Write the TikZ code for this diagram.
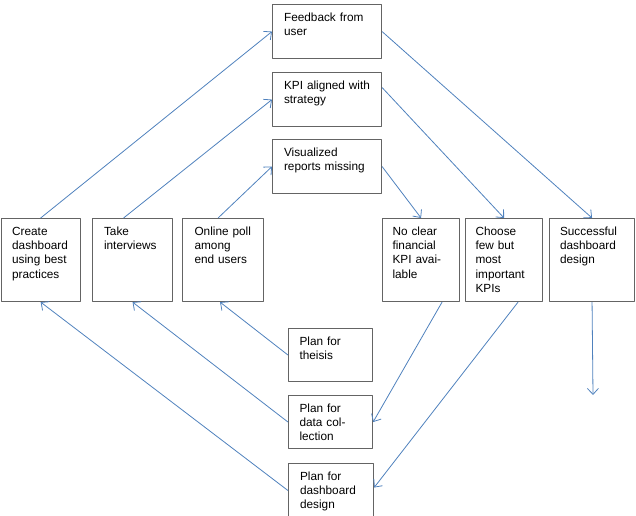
\documentclass[tikz,border=0pt]{standalone}
\usepackage{fontspec}
\setmainfont{Liberation Sans}
\usetikzlibrary{arrows.meta}
\definecolor{boxline}{RGB}{100,100,100}
\definecolor{arrowblue}{RGB}{79,129,189}
\tikzset{
  card/.style={draw=boxline,line width=1.1pt,anchor=north west,align=left,
    inner xsep=10pt,inner ysep=0pt,minimum height=0pt,text height=17pt,
    font=\fontsize{11.8}{14.2}\selectfont},
  topcard/.style={card,minimum width=109pt,text width=86pt,text depth=37pt},
  midcard/.style={card,text width=57pt,text depth=66pt},
  plancard/.style={card,minimum width=84pt,text width=62pt,text depth=36pt},
  flow/.style={->,draw=arrowblue,line width=0.8pt}
}
\begin{document}
\begin{tikzpicture}[x=1pt,y=-1pt,>={Straight Barb[length=6pt,width=11pt]},line join=round]
		\useasboundingbox (0,0) rectangle (636,515);
		% top row
		\node[topcard] (fb) at (272,4) {Feedback from\\user};
		\node[topcard] (kpi) at (272,72) {KPI aligned with\\strategy};
		\node[topcard] (vis) at (272,139) {Visualized\\reports missing};
		% middle row
		\node[midcard,minimum width=79pt] (create) at (0.6,218) {Create\\dashboard\\using best\\practices};
		\node[midcard,minimum width=80pt] (interv) at (92,218) {Take\\interviews};
		\node[midcard,minimum width=81pt] (poll) at (182,218) {Online poll\\among\\end users};
		\node[midcard,minimum width=77pt] (noclear) at (382,218) {No clear\\financial\\KPI avai-\\lable};
		\node[midcard,minimum width=77pt] (choose) at (465,218) {Choose\\few but\\most\\important\\KPIs};
		\node[midcard,minimum width=85pt,text width=64pt] (success) at (549,218) {Successful\\dashboard\\design};
		% plans
		\node[plancard] (pthesis) at (288,328) {Plan for\\theisis};
		\node[plancard] (pdata) at (288,395) {Plan for\\data col-\\lection};
		\node[plancard,minimum width=85pt,text depth=37pt] (pdash) at (288,463) {Plan for\\dashboard\\design};
		\coordinate (done) at (593,395);
		% arrows
		\draw[flow] (create.north) -- (fb.west);
		\draw[flow] ([xshift=-9pt]interv.north) -- (kpi.west);
		\draw[flow] ([xshift=-5pt]poll.north) -- (vis.west);
		\draw[flow] (fb.east) -- (success.north);
		\draw[flow] ([yshift=12pt]kpi.east) -- (choose.north);
		\draw[flow] (vis.east) -- (noclear.north);
		\draw[flow] (pthesis.west) -- ([xshift=-3pt]poll.south);
		\draw[flow] (pdata.west) -- (interv.south);
		\draw[flow] (pdash.west) -- (create.south);
		\draw[flow] ([xshift=21pt]noclear.south) -- (pdata.east);
		\draw[flow] ([xshift=14pt]choose.south) -- ([yshift=3pt]pdash.east);
		\draw[flow] (success.south) -- (done);
\end{tikzpicture}
\end{document}
